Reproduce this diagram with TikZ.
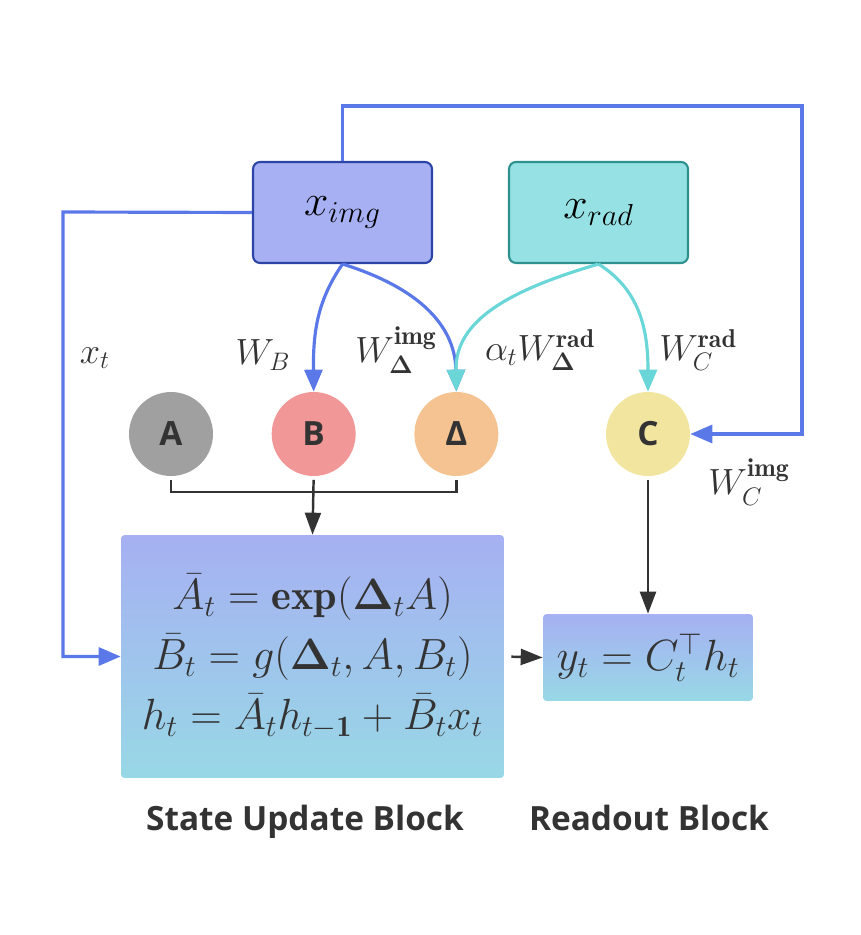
\documentclass[tikz,border=0pt]{standalone}
\usepackage{amsmath,amssymb,bm}
\usepackage{fontspec}
\newfontfamily\blocksans{Open Sans}
\usepackage{tikz}
\usetikzlibrary{arrows.meta,positioning}

\definecolor{imgfill}{HTML}{A6B0F2}
\definecolor{imgdraw}{HTML}{2B44A6}
\definecolor{radfill}{HTML}{96E1E3}
\definecolor{raddraw}{HTML}{2D918F}
\definecolor{loopblue}{HTML}{5A78E8}
\definecolor{radcyan}{HTML}{6AD6D8}
\definecolor{darktext}{HTML}{333333}
\definecolor{colA}{HTML}{A0A0A0}
\definecolor{colB}{HTML}{F29797}
\definecolor{colD}{HTML}{F5C391}
\definecolor{colC}{HTML}{F2E5A0}
\definecolor{gradtop}{HTML}{A6B0F2}
\definecolor{gradbot}{HTML}{98D8E6}

\begin{document}
\begin{tikzpicture}[
			x=0.02cm, y=-0.02cm,
			inputbox/.style={
				rectangle,
				rounded corners=4pt,
				line width=1.2pt,
				minimum width=3.58cm,
				minimum height=2.02cm,
				font=\fontsize{25}{30}\selectfont
			},
			param/.style={
				circle,
				minimum size=1.68cm,
				inner sep=0pt,
				text=darktext,
				font=\blocksans\bfseries\fontsize{19}{22}\selectfont
			},
			blockbox/.style={
				rectangle,
				rounded corners=2pt,
				top color=gradtop,
				bottom color=gradbot,
				align=center,
				text=darktext,
				font=\fontsize{24}{34}\selectfont
			},
			wlabel/.style={
				text=darktext,
				font=\fontsize{21}{25}\selectfont
			},
			caption/.style={
				anchor=base,
				text=darktext,
				font=\blocksans\bfseries\fontsize{19}{22}\selectfont
			},
			bluearrow/.style={
				-{Triangle[length=4.4mm,width=3.6mm]},
				line width=1.8pt,
				draw=loopblue
			},
			cyanarrow/.style={
				-{Triangle[length=4.4mm,width=3.6mm]},
				line width=1.8pt,
				draw=radcyan
			},
			blackarrow/.style={
				-{Triangle[length=4.4mm,width=3.2mm]},
				line width=1.4pt,
				draw=darktext
			}
			]
			\useasboundingbox (0,0) rectangle (860,935);
			
			% inputs
			\node[inputbox, draw=imgdraw, fill=imgfill] (ximg) at (342.5,212.5) {$x_{img}$};
			\node[inputbox, draw=raddraw, fill=radfill] (xrad) at (598.5,212.5) {$x_{rad}$};
			
			% parameters
			\node[param, fill=colA] (nodeA) at (171,434) {A};
			\node[param, fill=colB, right=1.16cm of nodeA] (nodeB) {B};
			\node[param, fill=colD, right=1.16cm of nodeB] (nodeD) {Δ};
			\node[param, fill=colC] (nodeC) at (648,434) {C};
			
			% blocks
			\node[blockbox, minimum width=7.66cm, minimum height=4.86cm] (state) at (312.5,656.5)
			{$\bar{A}_t = \mathbf{exp}(\bm{\Delta}_t A)$\\
			 $\bar{B}_t = g(\bm{\Delta}_t, A, B_t)$\\
			 $h_t = \bar{A}_t h_{t-\mathbf{1}} + \bar{B}_t x_t$};
			\node[blockbox, minimum width=4.2cm, minimum height=1.74cm] (readout) at (648,657.5)
			{$y_t = C_t^{\top} h_t$};
			
			\node[caption] (capstate) at (305,830) {State Update Block};
			\node[caption] (capread) at (649,830) {Readout Block};
			
			% loops from x_img
			\coordinate (topR) at (802,106);
			\coordinate (leftL) at (63,212);
			\draw[bluearrow] (ximg.north) |- (topR) |- (nodeC.east);
			\draw[bluearrow] (ximg.west) -- (leftL) |- (state.west);
			
			% projections
			\draw[bluearrow] (ximg.south) .. controls (318,300) and (313,330) .. (nodeB.north);
			\draw[bluearrow] (ximg.south) .. controls (410,285) and (455,320) .. (nodeD.north);
			\draw[cyanarrow] (xrad.south) .. controls (510,290) and (455,320) .. (nodeD.north);
			\draw[cyanarrow] (xrad.south) .. controls (640,290) and (648,330) .. (nodeC.north);
			
			% labels
			\node[wlabel] (lxt) at (95,358) {$x_t$};
			\node[wlabel] (lwb) at (263,355) {$W_B$};
			\node[wlabel] (lwdi) at (396,350) {$W_{\bm{\Delta}}^{\mathbf{img}}$};
			\node[wlabel] (lwdr) at (540,350) {$\alpha_t W_{\bm{\Delta}}^{\mathbf{rad}}$};
			\node[wlabel] (lwcr) at (698,350) {$W_C^{\mathbf{rad}}$};
			\node[wlabel] (lwci) at (749,482) {$W_C^{\mathbf{img}}$};
			
			% into the blocks
			\coordinate (brk) at (313,492);
			\draw[line width=1.4pt, draw=darktext, shorten <=2pt, shorten >=2pt] (nodeA.south) |- (brk) -| (nodeD.south);
			\draw[blackarrow, shorten <=2pt] (nodeB.south) -- (state.north);
			\draw[blackarrow, shorten <=2pt] (nodeC.south) -- (readout.north);
			\draw[blackarrow, shorten <=4pt] (state.east) -- (readout.west);
		\end{tikzpicture}
\end{document}
